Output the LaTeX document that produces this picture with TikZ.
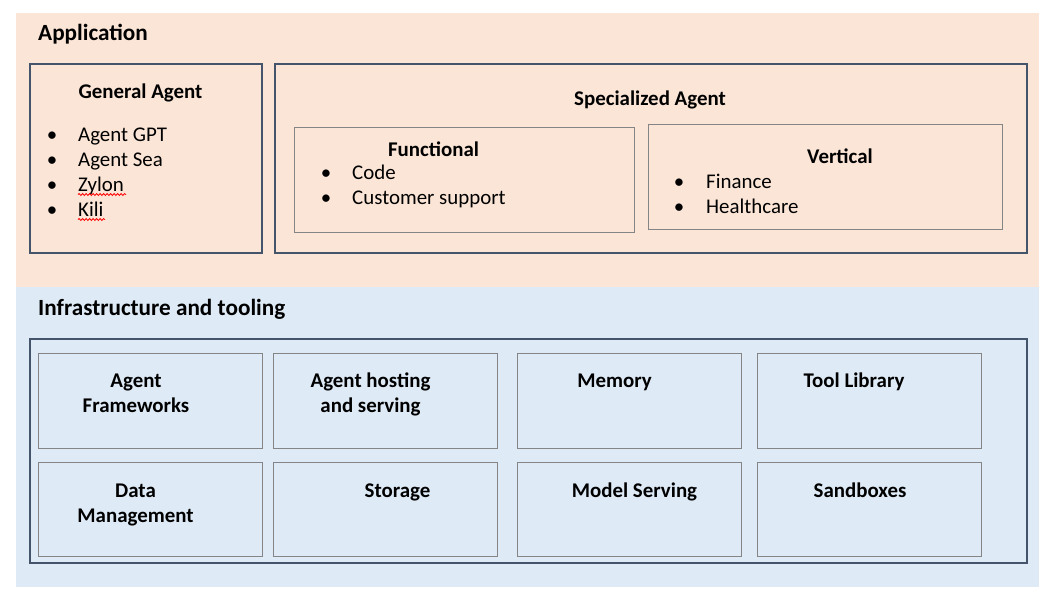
\documentclass[tikz,border=0pt]{standalone}
\usepackage{fontspec}
\setmainfont{Carlito}
\usetikzlibrary{decorations.pathmorphing}
\definecolor{appbg}{HTML}{FBE5D6}
\definecolor{infbg}{HTML}{DEEBF7}
\definecolor{darkframe}{HTML}{44546A}
\definecolor{lightframe}{HTML}{858585}
\tikzset{
  bigbox/.style={draw=darkframe, line width=2pt, anchor=north west, inner sep=0pt},
  smallbox/.style={draw=lightframe, line width=1pt, anchor=north west, inner sep=0pt},
  band/.style={anchor=north west, inner sep=0pt, draw=none},
  title/.style={font=\fontsize{23.2}{28}\selectfont\bfseries, anchor=base west, inner sep=0pt},
  head/.style={font=\fontsize{20.9}{25}\selectfont\bfseries, anchor=base, inner sep=0pt},
  item/.style={font=\fontsize{20.9}{25}\selectfont, anchor=base west, inner sep=0pt},
  dot/.style={font=\fontsize{20.9}{25}\selectfont, anchor=base, inner sep=0pt},
  squiggle/.style={draw=red, line width=0.8pt, decorate, decoration={snake, amplitude=1pt, segment length=3.5pt}}
}
\begin{document}
\begin{tikzpicture}[x=1pt,y=-1pt]
\useasboundingbox (0,0) rectangle (1043,595);
% bands
\node[band, fill=appbg, minimum width=1023pt, minimum height=274pt] (appband) at (16,13) {};
\node[band, fill=infbg, minimum width=1023pt, minimum height=300pt] (infband) at (16,287) {};
% application
\node[title] (apptitle) at (38,40) {Application};
\node[bigbox, minimum width=232pt, minimum height=189pt] (gen) at (29,63) {};
\node[head] (genhead) at (140.5,98) {General Agent};
\node[dot] (g1b) at (52,141) {•};
\node[item] (g1) at (78,141) {Agent GPT};
\node[dot] (g2b) at (52,166) {•};
\node[item] (g2) at (78,166) {Agent Sea};
\node[dot] (g3b) at (52,191) {•};
\node[item] (g3) at (78,191) {Zylon};
\node[dot] (g4b) at (52,216) {•};
\node[item] (g4) at (78,216) {Kili};
\draw[squiggle] (78,194.5) -- (126,194.5);
\draw[squiggle] (78,219.5) -- (105,219.5);
\node[bigbox, minimum width=752pt, minimum height=189pt] (spec) at (274,63) {};
\node[head] (spechead) at (650,105) {Specialized Agent};
\node[smallbox, minimum width=340pt, minimum height=105pt] (func) at (294,127) {};
\node[head] (funchead) at (433.5,156) {Functional};
\node[dot] (f1b) at (326,179) {•};
\node[item] (f1) at (352,179) {Code};
\node[dot] (f2b) at (326,204) {•};
\node[item] (f2) at (352,204) {Customer support};
\node[smallbox, minimum width=354pt, minimum height=105pt] (vert) at (647.5,124) {};
\node[head] (verthead) at (840,163) {Vertical};
\node[dot] (v1b) at (679,188) {•};
\node[item] (v1) at (706,188) {Finance};
\node[dot] (v2b) at (679,213) {•};
\node[item] (v2) at (706,213) {Healthcare};
% infrastructure
\node[title] (inftitle) at (38,315) {Infrastructure and tooling};
\node[bigbox, minimum width=997pt, minimum height=224pt] (inf) at (29,337.5) {};
\node[smallbox, minimum width=224pt, minimum height=95pt] (c11) at (37.5,352.5) {};
\node[smallbox, minimum width=224pt, minimum height=95pt] (c12) at (272.5,352.5) {};
\node[smallbox, minimum width=224pt, minimum height=95pt] (c13) at (516.5,352.5) {};
\node[smallbox, minimum width=224pt, minimum height=95pt] (c14) at (756.5,352.5) {};
\node[smallbox, minimum width=224pt, minimum height=94pt] (c21) at (37.5,461.5) {};
\node[smallbox, minimum width=224pt, minimum height=94pt] (c22) at (272.5,461.5) {};
\node[smallbox, minimum width=224pt, minimum height=94pt] (c23) at (516.5,461.5) {};
\node[smallbox, minimum width=224pt, minimum height=94pt] (c24) at (756.5,461.5) {};
\node[head] (l11a) at (136,387) {Agent};
\node[head] (l11b) at (136,412) {Frameworks};
\node[head] (l12a) at (370.5,387) {Agent hosting};
\node[head] (l12b) at (370.5,412) {and serving};
\node[head] (l13) at (614.5,387) {Memory};
\node[head] (l14) at (854,387) {Tool Library};
\node[head] (l21a) at (135.5,497) {Data};
\node[head] (l21b) at (135.5,522) {Management};
\node[head] (l22) at (397.5,497) {Storage};
\node[head] (l23) at (634.5,497) {Model Serving};
\node[head] (l24) at (860,497) {Sandboxes};
\end{tikzpicture}
\end{document}
